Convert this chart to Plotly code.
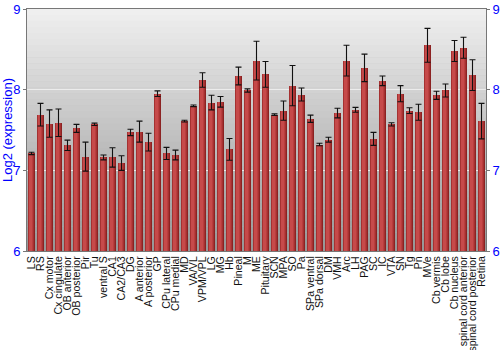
import plotly.graph_objects as go

categories = ["LS", "RS", "Cx motor", "Cx cingulate", "OB anterior", "OB posterior", "Pir", "Tu",
              "ventral S", "CA1", "CA2/CA3", "DG", "A anterior", "A posterior", "GP", "CPu lateral",
              "CPu medial", "MD", "VA/VL", "VPM/VPL", "LG", "MG", "Hb", "Pineal", "M", "ME",
              "Pituitary", "SCN", "MPA", "SO", "Pa", "SPa ventral", "SPa dorsal", "DM", "VMH", "Arc",
              "LH", "PAG", "SC", "IC", "VTA", "SN", "Tg", "Pn", "MVe", "Cb vermis", "Cb lobe",
              "Cb nucleus", "spinal cord anterior", "spinal cord posterior", "Retina"]

values = [7.21, 7.69, 7.58, 7.59, 7.31, 7.52, 7.17, 7.57,
          7.16, 7.16, 7.09, 7.47, 7.48, 7.35, 7.95, 7.21,
          7.19, 7.61, 7.80, 8.12, 7.84, 7.85, 7.26, 8.17, 7.99, 8.36,
          8.19, 7.69, 7.74, 8.05, 7.94, 7.64, 7.32, 7.38, 7.71, 8.36,
          7.75, 8.27, 7.39, 8.11, 7.57, 7.95, 7.74, 7.72, 8.55, 7.93, 7.99,
          8.48, 8.52, 8.18, 7.61]

errors = [0.015, 0.14, 0.17, 0.17, 0.065, 0.05, 0.18, 0.015,
          0.03, 0.12, 0.09, 0.04, 0.13, 0.11, 0.035, 0.075,
          0.06, 0.01, 0.01, 0.09, 0.09, 0.066, 0.135, 0.11, 0.02, 0.24,
          0.16, 0.01, 0.12, 0.25, 0.08, 0.045, 0.015, 0.03, 0.06, 0.19,
          0.03, 0.17, 0.08, 0.06, 0.02, 0.10, 0.035, 0.10, 0.21, 0.05, 0.08,
          0.13, 0.13, 0.19, 0.22]

y_ticks = [6, 7, 8, 9]

fig = go.Figure()

# layered bars to imitate the cylinder shading
layers = [(0.88, 0.0, "#8c2222"), (0.66, -0.06, "#a53131"), (0.44, -0.08, "#b93d3d"), (0.22, -0.08, "#c64a4a")]
for w, shift, col in layers:
    fig.add_trace(go.Bar(
        x=list(range(len(categories))), y=values, base=0,
        width=w, offset=-w / 2 + shift,
        marker=dict(color=col, line=dict(width=0)),
        hoverinfo="skip", showlegend=False,
    ))

fig.add_trace(go.Scatter(
    x=list(range(len(categories))), y=values, mode="markers",
    marker=dict(size=0.1, color="rgba(0,0,0,0)"),
    error_y=dict(type="data", array=errors, color="#111111", thickness=1.1, width=3),
    showlegend=False,
))

# empty trace to show right-hand axis
fig.add_trace(go.Scatter(x=[], y=[], yaxis="y2", showlegend=False))

# background vertical gradient
n = 40
top = (240, 240, 240)
bot = (150, 150, 150)
for k in range(n):
    t = (k + 0.5) / n
    c = tuple(int(round(top[j] + (bot[j] - top[j]) * t)) for j in range(3))
    fig.add_shape(type="rect", xref="x domain", yref="y domain",
                  x0=0, x1=1, y0=1 - (k + 1) / n, y1=1 - k / n + 0.001,
                  fillcolor="rgb(%d,%d,%d)" % c, line=dict(width=0), layer="below")

fig.update_layout(
    width=500, height=350,
    margin=dict(l=27, r=14, t=9, b=99),
    paper_bgcolor="white", plot_bgcolor="#c0c0c0",
    barmode="overlay", bargap=0,
    font=dict(family="Liberation Sans, Arial, sans-serif"),
    xaxis=dict(
        tickmode="array", tickvals=list(range(len(categories))), ticktext=categories,
        tickangle=-90, tickfont=dict(size=10.6, color="#111111"),
        range=[-0.5, len(categories) - 0.5], automargin=False,
        showgrid=False, ticks="", showline=True, linecolor="#777777", linewidth=1, mirror=True,
    ),
    yaxis=dict(
        range=[6, 9], tickvals=y_ticks, tickfont=dict(size=13, color="#0000ff"),
        title=dict(text="Log2 (expression)", font=dict(size=13, color="#0000ff"), standoff=4),
        showgrid=True, gridcolor="#ececec", gridwidth=1.2, automargin=False,
        ticks="outside", ticklen=3, tickcolor="#777777",
        showline=True, linecolor="#777777", linewidth=1, mirror=True, zeroline=False,
    ),
    yaxis2=dict(
        range=[6, 9], tickvals=y_ticks, overlaying="y", side="right", automargin=False,
        tickfont=dict(size=13, color="#0000ff"), showgrid=False,
        ticks="outside", ticklen=3, tickcolor="#777777", zeroline=False,
    ),
)

fig.write_html("out.html")
